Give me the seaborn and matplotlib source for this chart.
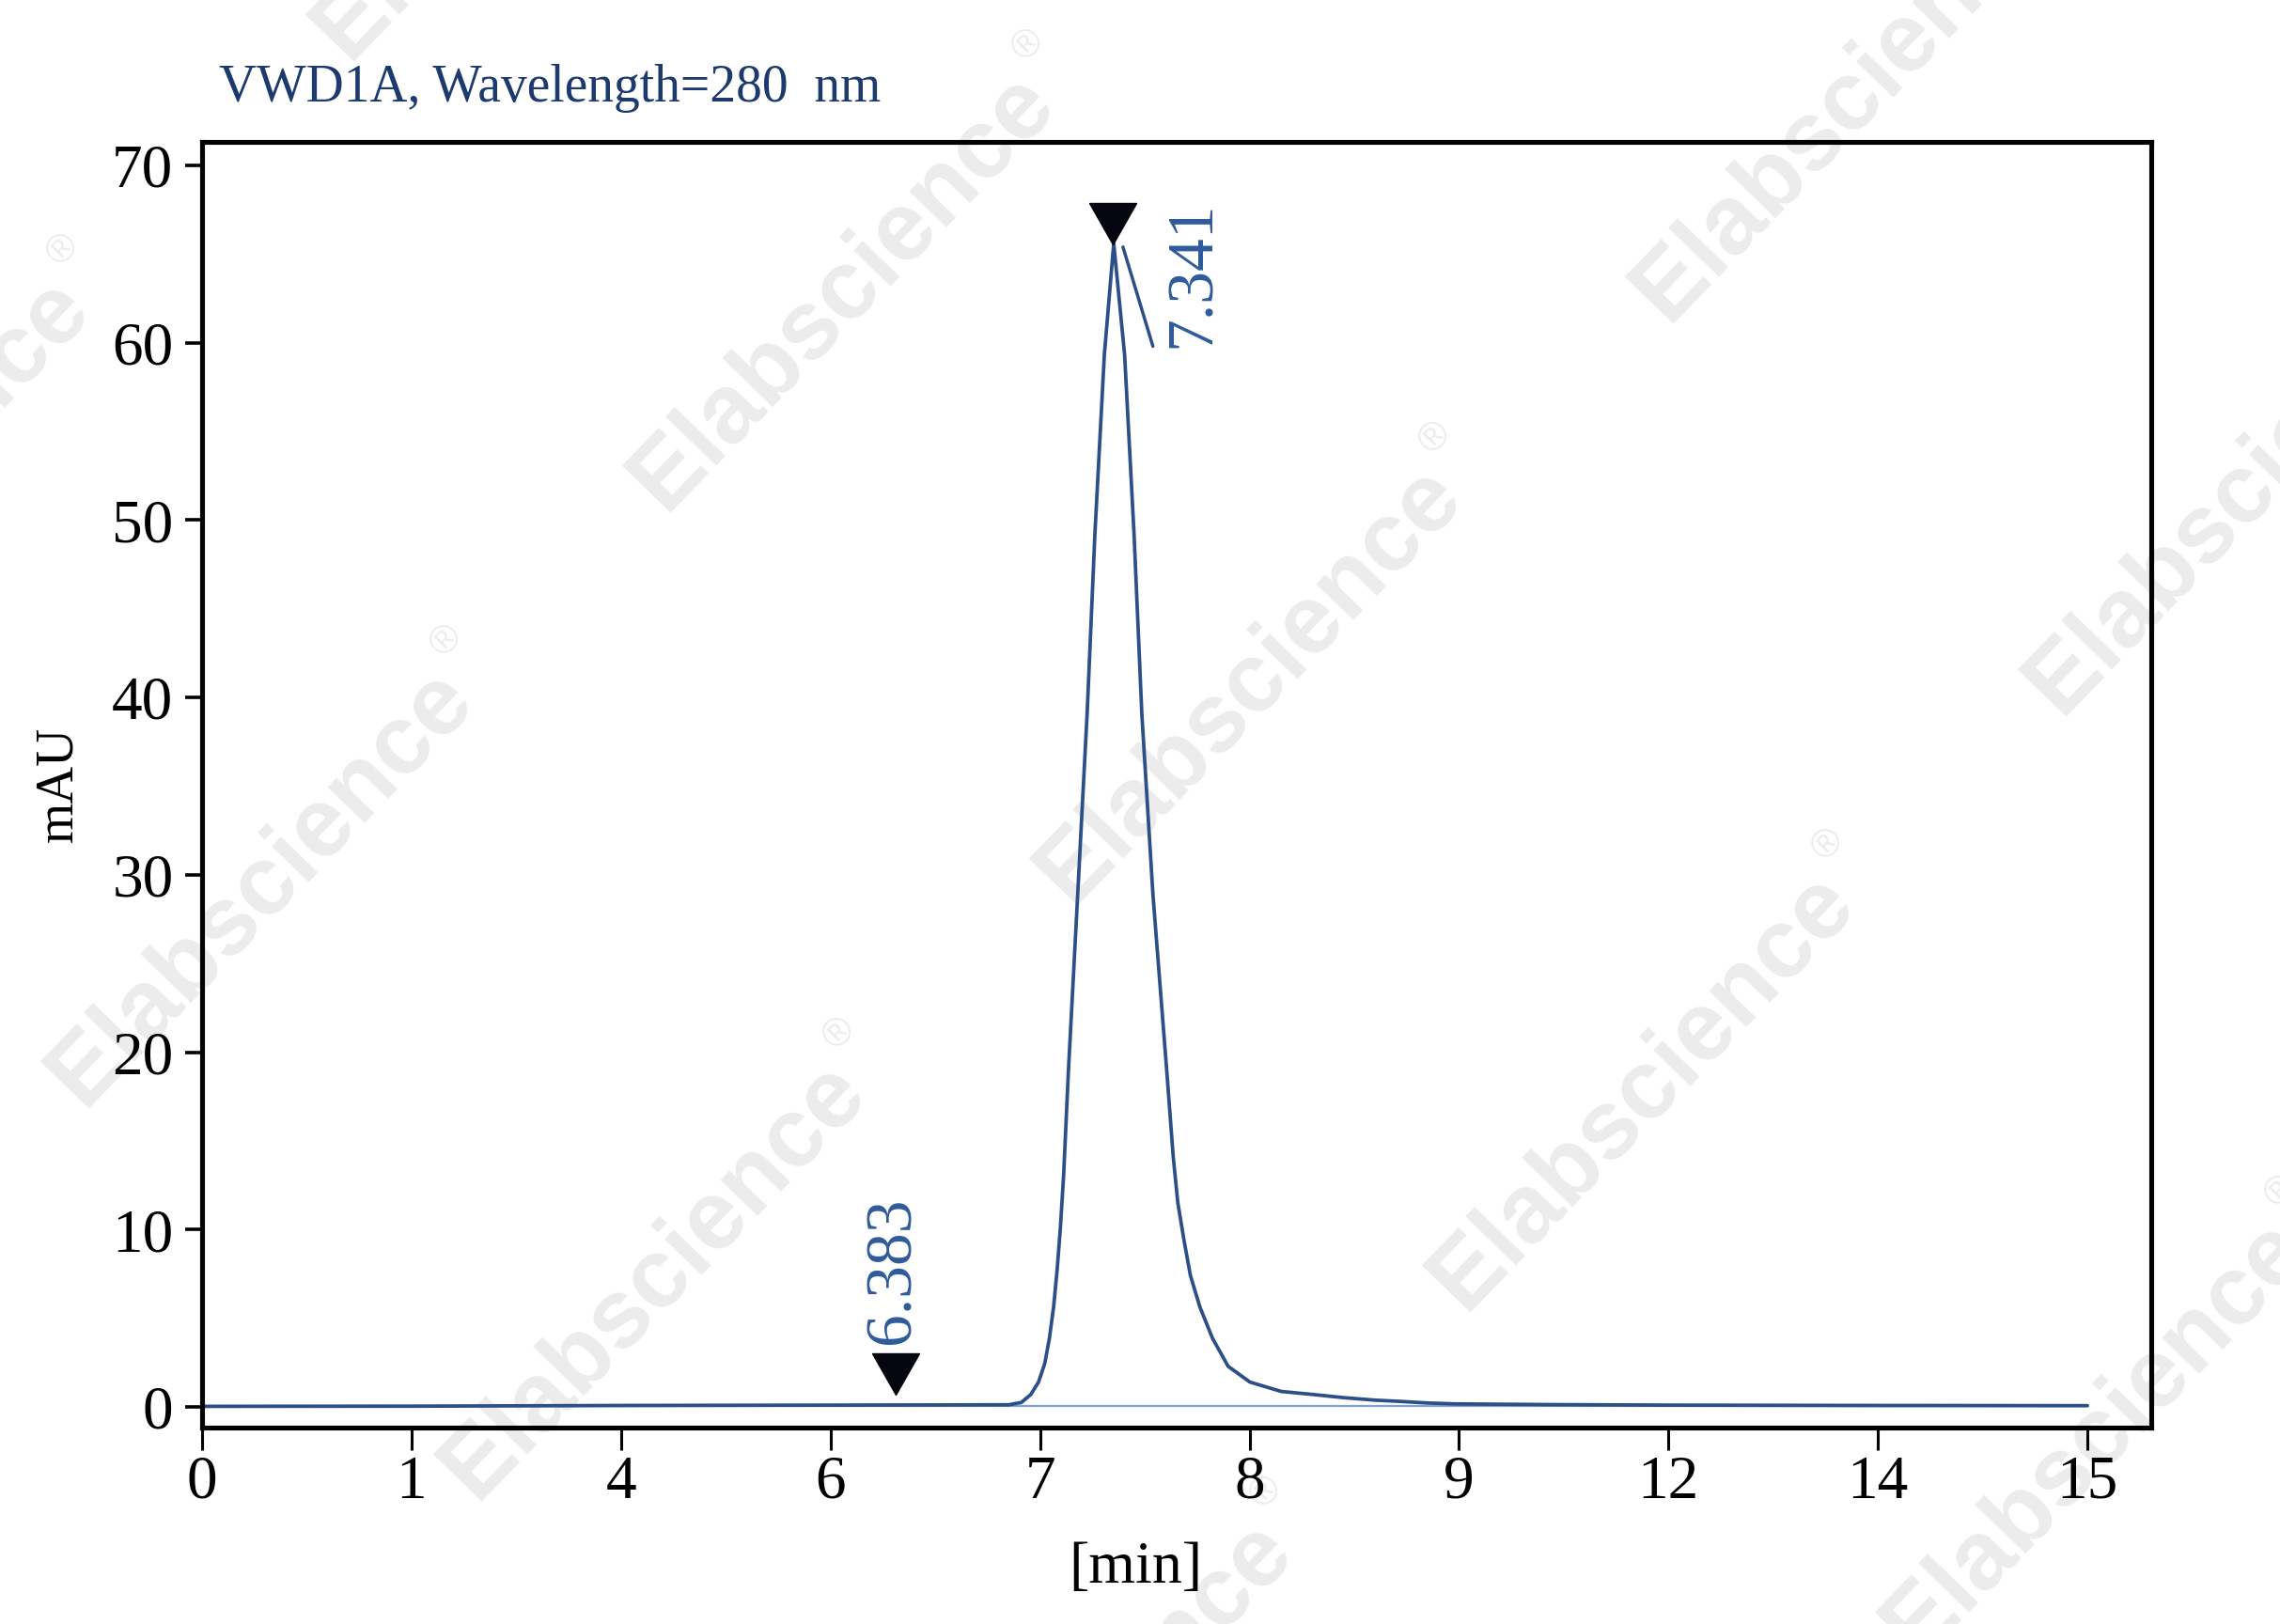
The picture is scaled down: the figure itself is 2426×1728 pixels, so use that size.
import numpy as np
import matplotlib
matplotlib.use("Agg")
import matplotlib.pyplot as plt
import seaborn as sns

# Chromatogram (retention time in min, signal in mAU)
time_min = [0.0, 1.0, 4.0, 6.0, 6.5, 6.851, 6.911, 6.956, 6.993, 7.023,
            7.045, 7.065, 7.082, 7.097, 7.113, 7.135, 7.180, 7.225, 7.262,
            7.307, 7.352, 7.404, 7.449, 7.486, 7.539, 7.606, 7.636, 7.658,
            7.688, 7.718, 7.763, 7.823, 7.898, 8.002, 8.152, 8.302, 8.451,
            8.600, 8.720, 8.85, 8.98, 10.3, 12.0, 14.0, 15.0]
signal_mau = [0.03, 0.04, 0.08, 0.10, 0.11, 0.12, 0.25, 0.70, 1.40, 2.46,
              3.88, 5.64, 7.76, 10.06, 13.1, 18.8, 28.9, 39.1, 49.2,
              59.3, 65.6, 59.3, 49.2, 39.1, 28.9, 18.8, 14.1, 11.5,
              9.35, 7.41, 5.64, 3.88, 2.29, 1.40, 0.87, 0.70, 0.52,
              0.38, 0.31, 0.22, 0.17, 0.13, 0.10, 0.08, 0.07]

# integration baseline
baseline_min = [0.0, 15.0]
baseline_mau = [0.06, 0.06]

# peak markers and labels
marker_min = [6.311, 7.347]
marker_mau = [1.83, 66.7]
peak_labels = ["6.383", "7.341"]
label_min = [6.302, 7.733]
label_mau = [3.55, 59.7]
leader_min = [7.396, 7.539]
leader_mau = [65.4, 59.8]

# the x axis is not linear: the ticks are equally spaced
tick_minutes = [0, 1, 4, 6, 7, 8, 9, 12, 14, 15]
y_ticks = [0, 10, 20, 30, 40, 50, 60, 70]

LINE = "#2b4f86"
LABEL = "#2f5b9b"
TITLE = "#1d3a6e"


def to_pos(t):
    return np.interp(t, tick_minutes, np.arange(len(tick_minutes)))


sns.set_theme(style="white")
plt.rcParams['font.family'] = ['Liberation Serif', 'DejaVu Serif']

W, H = 2426, 1728
fig = plt.figure(figsize=(W / 100, H / 100), dpi=100)
fig.patch.set_facecolor("white")
ax = fig.add_axes([215 / W, 1 - 1519 / H, (2289 - 215) / W, (1519 - 150.5) / H])
ax.set_facecolor("none")

sns.lineplot(x=to_pos(baseline_min), y=baseline_mau, ax=ax, color="#7ea2d2",
             linewidth=1.6, sort=False)
sns.lineplot(x=to_pos(time_min), y=signal_mau, ax=ax, color=LINE,
             linewidth=2.7, sort=False)
ax.plot(to_pos(leader_min), leader_mau, color=LINE, linewidth=2.5)

tri = [(-1, 0.88), (1, 0.88), (0, -0.88), (-1, 0.88)]
ax.plot(to_pos(marker_min), marker_mau, linestyle="none", marker=tri,
        markersize=36, color="#05050f")

for lab, t, v in zip(peak_labels, label_min, label_mau):
    ax.text(to_pos(t), v, lab, rotation=90, ha="center", va="bottom",
            fontsize=50, color=LABEL)

ax.set_xlim(0, (2289 - 215) / 222.9)
ax.set_ylim(-1.166, 71.35)
ax.set_xticks(np.arange(len(tick_minutes)))
ax.set_xticklabels([str(t) for t in tick_minutes])
ax.set_yticks(y_ticks)
ax.tick_params(axis="x", direction="out", length=17, width=2.2, pad=4,
               labelsize=47, colors="black", bottom=True)
ax.tick_params(axis="y", direction="out", length=13, width=2.6, pad=9,
               labelsize=47, colors="black", left=True)
for sp in ax.spines.values():
    sp.set_linewidth(3.7)
    sp.set_color("black")
    sp.set_visible(True)

ax.set_xlabel("")
ax.set_ylabel("")
fig.text(1208 / W, 1 - 1669 / H, "[min]", ha="center", va="center",
         fontsize=46, color="black")
fig.text(62 / W, 1 - 834 / H, "mAU", ha="center", va="center",
         rotation=90, fontsize=40, color="black")
fig.text(233 / W, 1 - 108 / H, "VWD1A, Wavelength=280  nm", ha="left",
         va="baseline", fontsize=40, color=TITLE)

# faint watermark behind the plot
wm_centers = [(897, 310), (1964, 109), (1330, 728), (278, 944), (2382, 527),
              (1748, 1161), (696, 1362), (2230, 1530), (560, -170),
              (-130, 528), (1150, 1850)]
ang = np.deg2rad(46)
for cx, cy in wm_centers:
    fig.text(cx / W, 1 - cy / H, "Elabscience", rotation=46, ha="center",
             va="center", fontsize=75, fontweight="bold",
             family="Liberation Sans", color="#ececec", zorder=-1)
    rx = cx + 325 * np.cos(ang) - 40 * np.sin(ang)
    ry = cy - 325 * np.sin(ang) - 40 * np.cos(ang)
    fig.text(rx / W, 1 - ry / H, "®", rotation=46, ha="center",
             va="center", fontsize=30, family="Liberation Sans",
             color="#ececec", zorder=-1)

fig.savefig("out.png", dpi=100, facecolor="white")
